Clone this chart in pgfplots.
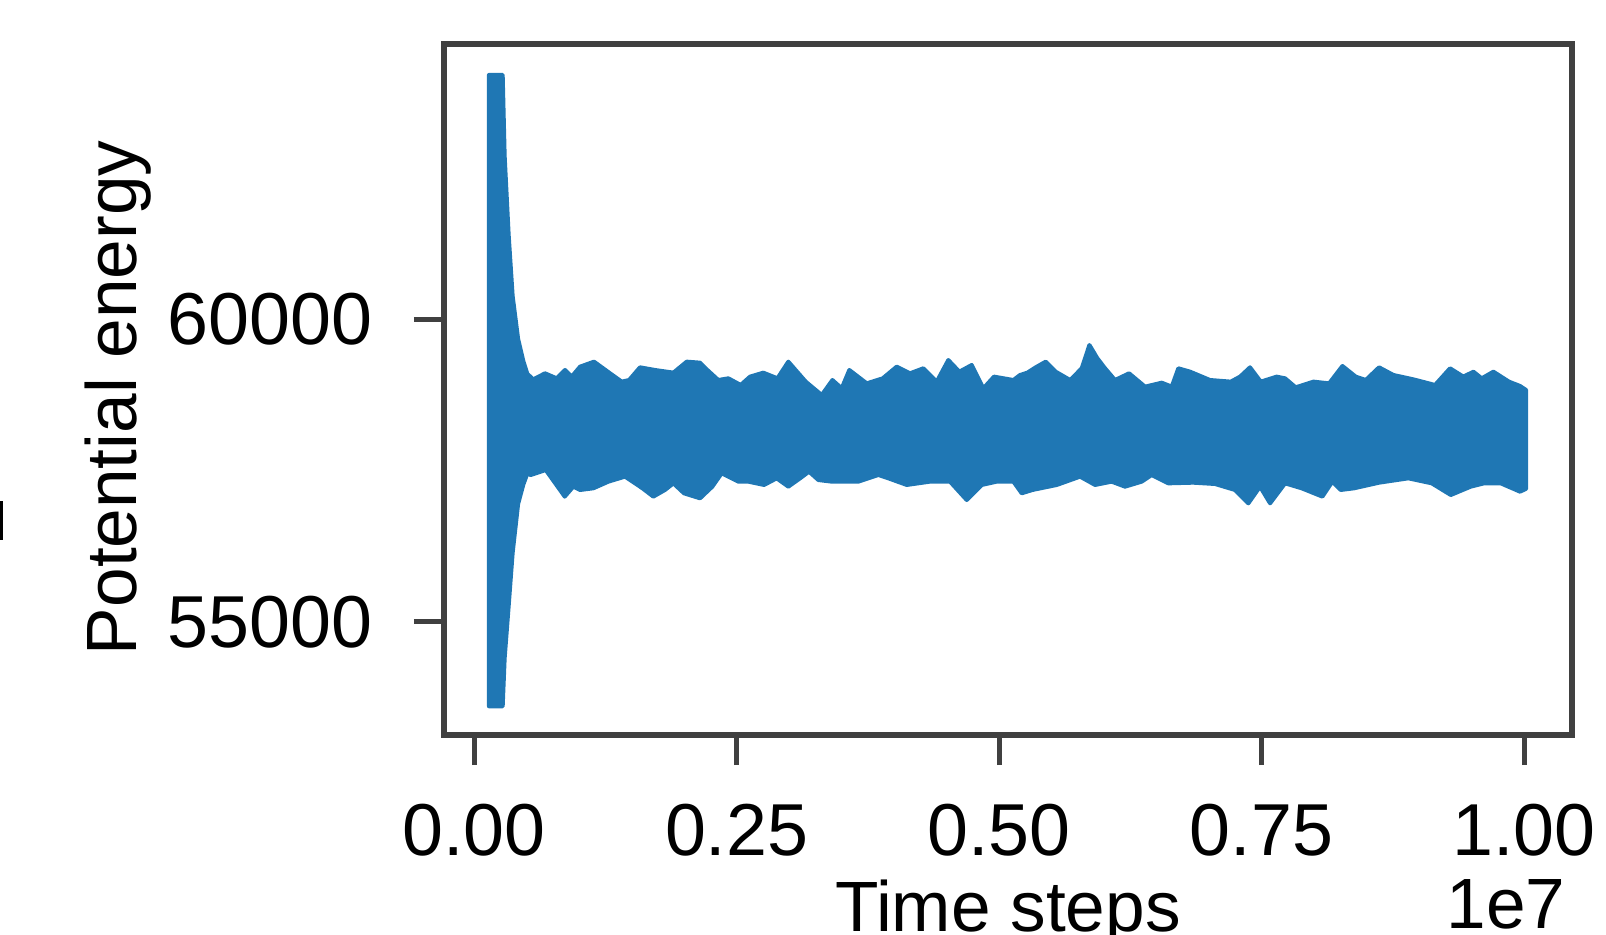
\documentclass[border=0pt]{standalone}
\usepackage{fontspec}
\setmainfont{Liberation Sans}
\usepackage{pgfplots}
\pgfplotsset{compat=1.18}
\definecolor{mplblue}{HTML}{1F77B4}
\definecolor{spine}{HTML}{404040}

\begin{document}
\begin{tikzpicture}
\begin{axis}[
  at={(111pt,49.75pt)}, anchor=south west,
  scale only axis, width=282pt, height=172.75pt,
  xmin=-0.0288, xmax=1.0457, ymin=53125, ymax=64561,
  xtick={0,0.25,0.5,0.75,1}, xticklabels={0.00,0.25,0.50,0.75,1.00},
  ytick={55000,60000}, yticklabels={55000,60000},
  scaled x ticks=false, scaled y ticks=false,
  tick pos=left, tick align=outside, major tick length=7.5pt,
  every tick/.style={draw=spine, line width=1.25pt},
  axis line style={draw=spine, line width=1.5pt},
  ticklabel style={font=\fontsize{18.4}{22}\selectfont, inner sep=0pt},
  xticklabel style={anchor=north}, xticklabel shift=9.5pt,
  yticklabel style={anchor=east}, yticklabel shift=10.25pt,
  label style={font=\fontsize{17.8}{21}\selectfont},
  xlabel={Time steps},
  xlabel style={at={(axis description cs:0.5,-0.208)}, anchor=north, inner sep=0pt},
  ylabel={Potential energy},
  ylabel style={at={(axis description cs:-0.289,0.488)}, anchor=center},
  clip=false,
]
% envelope of the energy trace: upper edge left to right, lower edge back
\addplot[draw=mplblue, fill=mplblue, line width=1pt, line join=round] coordinates {
  (0.0140,53600) (0.0140,64050) (0.0271,64050) (0.0290,62700) (0.0328,61400)
  (0.0366,60390) (0.0418,59680) (0.0468,59312) (0.0506,59102)
  (0.0563,59011) (0.0674,59111) (0.0786,59028) (0.0865,59166) (0.0928,59056)
  (0.1008,59221) (0.1141,59304) (0.1294,59111) (0.1405,58973) (0.1475,59000)
  (0.1579,59210) (0.1722,59166) (0.1897,59122) (0.2024,59304) (0.2151,59287)
  (0.2214,59177) (0.2325,59000) (0.2421,59028) (0.2538,58918)
  (0.2627,59056) (0.2754,59122) (0.2888,59028) (0.2992,59304) (0.3158,58973)
  (0.3310,58752) (0.3412,59000) (0.3500,58863) (0.3573,59166) (0.3739,58945)
  (0.3891,59028) (0.4024,59221) (0.4151,59111) (0.4278,59194) (0.4405,58973)
  (0.4516,59331) (0.4621,59138) (0.4739,59249) (0.4850,58863) (0.4951,59056)
  (0.5136,59000) (0.5199,59083) (0.5269,59122) (0.5348,59210) (0.5444,59304)
  (0.5539,59138) (0.5676,59000) (0.5787,59194) (0.5860,59580) (0.5936,59359)
  (0.6009,59194) (0.6104,59000) (0.6238,59111) (0.6390,58890) (0.6549,58956)
  (0.6644,58890) (0.6707,59194) (0.6819,59138) (0.7009,59000) (0.7206,58973)
  (0.7295,59056) (0.7390,59210) (0.7492,58973) (0.7644,59056)
  (0.7724,59028) (0.7825,58879) (0.7994,58973) (0.8143,58945) (0.8270,59232)
  (0.8397,59056) (0.8492,59000) (0.8619,59210) (0.8756,59083) (0.8946,59011)
  (0.9152,58918) (0.9295,59194) (0.9422,59056) (0.9518,59138) (0.9597,59028)
  (0.9708,59138) (0.9857,58973) (0.9962,58901) (1.0020,58835)
  (1.0020,57200)
  (0.9962,57152) (0.9778,57290) (0.9619,57290) (0.9492,57235) (0.9302,57097)
  (0.9121,57290) (0.8898,57373) (0.8619,57301) (0.8381,57208) (0.8254,57180)
  (0.8174,57318) (0.8079,57070) (0.7882,57208) (0.7724,57290)
  (0.7581,56959) (0.7485,57235) (0.7374,56959) (0.7247,57180) (0.7057,57279)
  (0.6850,57301) (0.6612,57290) (0.6453,57428) (0.6358,57318) (0.6199,57235)
  (0.6072,57318) (0.5914,57263) (0.5771,57401) (0.5549,57263) (0.5317,57180)
  (0.5215,57125) (0.5136,57318)
  (0.4977,57318) (0.4834,57263) (0.4691,57014) (0.4532,57318) (0.4342,57318)
  (0.4120,57263) (0.3945,57373) (0.3850,57428) (0.3659,57318) (0.3405,57318)
  (0.3278,57345) (0.3189,57483) (0.3104,57373) (0.2992,57235) (0.2881,57373)
  (0.2761,57263) (0.2611,57318)
  (0.2516,57318) (0.2357,57456) (0.2268,57235) (0.2151,57042) (0.1998,57125)
  (0.1897,57290) (0.1817,57180) (0.1706,57070) (0.1602,57208) (0.1436,57401)
  (0.1278,57318) (0.1135,57208) (0.1008,57180) (0.0944,57235) (0.0862,57070)
  (0.0681,57511) (0.0538,57428)
  (0.0506,57451) (0.0468,57271) (0.0418,56949) (0.0366,56140) (0.0328,55260)
  (0.0290,54400) (0.0271,53600)
} -- cycle;
\node[anchor=north east, inner sep=0pt, font=\fontsize{17.8}{21}\selectfont]
  at (axis description cs:0.995,-0.208) {1e7};
\end{axis}
\fill[black] (0,98.5pt) rectangle (0.75pt,108.3pt);
\pgfresetboundingbox
\path (0,0) rectangle (401.5pt,233.5pt);
\end{tikzpicture}
\end{document}
